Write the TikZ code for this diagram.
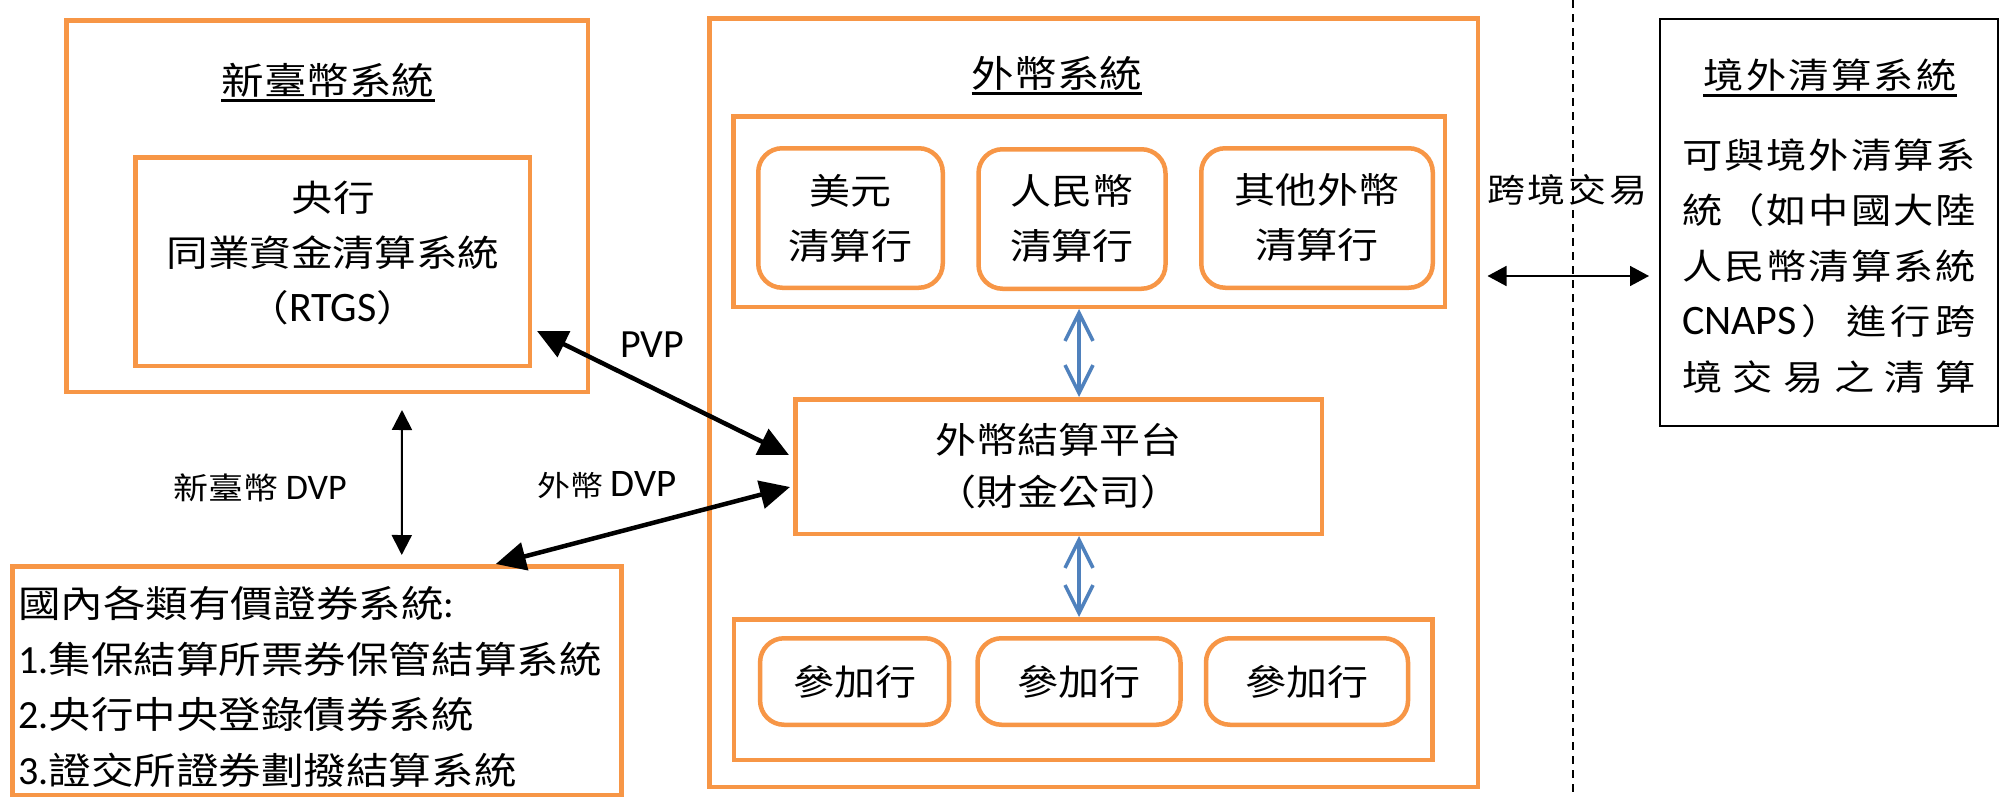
\documentclass[tikz,border=0pt]{standalone}
\usepackage{fontspec}
\setmainfont[FakeStretch=1.15]{Noto Sans CJK TC}
\newfontfamily\latw{Carlito}
\usetikzlibrary{arrows.meta,calc}
\definecolor{obox}{HTML}{F79646}
\definecolor{barrow}{HTML}{4F81BD}
\newcommand\RTx[1]{{\latw\fontsize{42}{55}\selectfont #1}}
\tikzset{
  obx/.style={draw=obox, line width=4.5pt, inner sep=0pt, fill=white},
  rbx/.style={obx, rounded corners=24pt, align=center},
  txt/.style={inner sep=0pt, align=center},
  bigarr/.style={line width=4.5pt, {Triangle[length=30pt,width=28pt]}-{Triangle[length=30pt,width=28pt]}},
  smallarr/.style={line width=2pt, {Triangle[length=20pt,width=20pt]}-{Triangle[length=20pt,width=20pt]}},
  hozarr/.style={line width=1.6pt, {Triangle[length=19pt,width=20pt]}-{Triangle[length=19pt,width=20pt]}},
  bluearr/.style={draw=barrow, line width=3.5pt, {Straight Barb[length=28pt,width=28pt]}-{Straight Barb[length=28pt,width=28pt]}},
  uline/.style={line width=3pt},
}
\begin{document}
\begin{tikzpicture}[x=1pt,y=-1pt]
\useasboundingbox (0,0) rectangle (2006,798);
% dashed divider
\coordinate (dtop) at (1573,0);
\coordinate (dbot) at (1573,798);
\draw[dashed, dash pattern=on 8pt off 6pt, line width=1.5pt] (dtop) -- (dbot);

% NTD system
\node[obx, minimum width=521.5pt, minimum height=371.5pt] (twd) at (327,206) {};
\node[txt, font=\fontsize{37}{40}\selectfont] (t1) at (328,80) {新臺幣系統};
\draw[uline] ([yshift=-20pt]t1.west) -- ([yshift=-20pt]t1.east);
\node[obx, minimum width=394.5pt, minimum height=208.5pt] (rtgs) at (332.5,261.5) {};
\node[txt, font=\fontsize{36.2}{55}\selectfont] (rtgstxt) at (333,253) {央行\\同業資金清算系統\\（\RTx{RTGS}）};

% securities box
\node[obx, minimum width=609pt, minimum height=228.5pt] (sec) at (316.75,680.5) {};
\node[txt, align=left, anchor=west, font=\fontsize{37}{55.7}\selectfont] (sectxt) at (18,687)
  {國內各類有價證券系統{\latw\fontsize{40}{55.7}\selectfont :}\\{\latw\fontsize{40}{55.7}\selectfont 1.}集保結算所票券保管結算系統\\{\latw\fontsize{40}{55.7}\selectfont 2.}央行中央登錄債券系統\\{\latw\fontsize{40}{55.7}\selectfont 3.}證交所證券劃撥結算系統};

% foreign currency system
\node[obx, minimum width=768.5pt, minimum height=768.5pt] (fx) at (1093.5,402.5) {};
\node[txt, font=\fontsize{37}{40}\selectfont] (t2) at (1057,73) {外幣系統};
\draw[uline] ([yshift=-20pt]t2.west) -- ([yshift=-20pt]t2.east);
\node[obx, minimum width=711.5pt, minimum height=190.5pt] (upper) at (1089,211.5) {};
\node[rbx, minimum width=184.5pt, minimum height=139.5pt, font=\fontsize{35.7}{55}\selectfont] (cb1) at (850.5,218) {美元\\清算行};
\node[rbx, minimum width=187pt, minimum height=139.5pt, font=\fontsize{35.7}{55}\selectfont] (cb2) at (1072,219) {人民幣\\清算行};
\node[rbx, minimum width=231.5pt, minimum height=139.5pt, font=\fontsize{35.7}{55}\selectfont] (cb3) at (1317,218) {其他外幣\\清算行};
\node[obx, minimum width=526.5pt, minimum height=134.5pt, align=center, font=\fontsize{35.7}{52}\selectfont] (plat) at (1058.5,466.5) {外幣結算平台\\（財金公司）};
\node[obx, minimum width=698.5pt, minimum height=140.5pt] (lower) at (1083,689.5) {};
\node[rbx, minimum width=189pt, minimum height=86.5pt, font=\fontsize{35.7}{40}\selectfont] (pb1) at (854.6,681.5) {參加行};
\node[rbx, minimum width=203pt, minimum height=86.5pt, font=\fontsize{35.7}{40}\selectfont] (pb2) at (1079,681.5) {參加行};
\node[rbx, minimum width=202pt, minimum height=86.5pt, font=\fontsize{35.7}{40}\selectfont] (pb3) at (1307,681.5) {參加行};

% offshore
\node[draw, line width=2pt, inner sep=0pt, minimum width=338pt, minimum height=407pt] (off) at (1829,222.5) {};
\node[txt, font=\fontsize{35}{40}\selectfont] (t3) at (1830,75) {\makebox[253pt][s]{境\hfil 外\hfil 清\hfil 算\hfil 系\hfil 統}};
\draw[uline] ([yshift=-20pt]t3.west) -- ([yshift=-20pt]t3.east);
\node[txt, font=\fontsize{35}{55.5}\selectfont] (offtxt) at (1829,266) {%
\makebox[294pt][s]{可\hfil 與\hfil 境\hfil 外\hfil 清\hfil 算\hfil 系}\\
\makebox[294pt][s]{統\hfil （\hfil 如\hfil 中\hfil 國\hfil 大\hfil 陸}\\
\makebox[294pt][s]{人\hfil 民\hfil 幣\hfil 清\hfil 算\hfil 系\hfil 統}\\
\makebox[294pt][s]{{\latw\fontsize{42}{55.5}\selectfont CNAPS}\hfil ）\hfil 進\hfil 行\hfil 跨}\\
\makebox[294pt][s]{境\hfil 交\hfil 易\hfil 之\hfil 清\hfil 算}};

% labels
\node[txt, font=\latw\fontsize{40}{50}\selectfont] (pvp) at (652,345) {PVP};
\node[txt, font=\fontsize{30.4}{40}\selectfont] (lbl1) at (260,488) {新臺幣 {\latw\fontsize{36}{40}\selectfont DVP}};
\node[txt, font=\fontsize{28.7}{40}\selectfont] (lbl2) at (607,485) {外幣 {\latw\fontsize{39}{40}\selectfont DVP}};
\node[txt, font=\fontsize{33}{40}\selectfont] (xb) at (1567,190) {\makebox[160pt][s]{跨\hfil 境\hfil 交\hfil 易}};

% connectors
\draw[bigarr] ([xshift=5pt,yshift=37pt]rtgs.south east) -- ([xshift=-4pt,yshift=11.5pt]plat.west);
\draw[bigarr] ([xshift=179pt]sec.north) -- ([xshift=-3pt,yshift=-20.5pt]plat.west);
\draw[smallarr] ([xshift=75pt,yshift=-16pt]twd.south) -- ([xshift=85pt,yshift=9pt]sec.north);
\draw[bluearr] ([xshift=-10pt]upper.south) -- ([xshift=20.5pt]plat.north);
\draw[bluearr] ([xshift=20.5pt]plat.south) -- ([xshift=-4pt]lower.north);
\draw[hozarr] ([xshift=7.5pt,yshift=126.5pt]fx.east) -- ([xshift=-10pt,yshift=-53.5pt]off.west);
\end{tikzpicture}
\end{document}
